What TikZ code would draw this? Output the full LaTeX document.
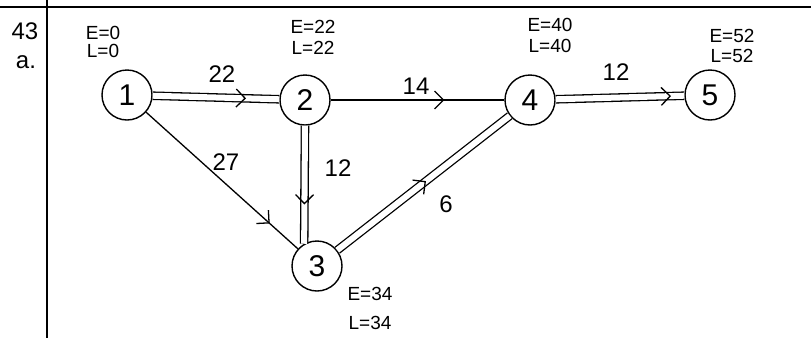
\documentclass[tikz,border=0pt]{standalone}
\usepackage{fontspec}
\setmainfont{Liberation Sans}
\usetikzlibrary{decorations.markings}
\begin{document}
\begin{tikzpicture}[x=1pt,y=-1pt,
  ev/.style={circle, draw, line width=1.4pt, minimum size=50pt, inner sep=0pt, font=\fontsize{30}{32}\selectfont},
  lab/.style={font=\fontsize{19}{19}\selectfont, inner sep=0pt},
  wt/.style={font=\fontsize{24}{24}\selectfont, inner sep=0pt},
  sline/.style={line width=1.3pt},
  dbl/.style={double, double distance=6pt, line width=1.3pt},
  harr/.style={decoration={markings, mark=at position #1 with {\draw[line width=1.3pt] (-9pt,-9pt) -- (0,0) -- (-9pt,9pt);}}, decorate},
]
\useasboundingbox (0,0) rectangle (811,338);
% frame lines
\coordinate (tl) at (0,7);
\coordinate (tr) at (811,7);
\coordinate (vt) at (47,0);
\coordinate (vb) at (47,338);
\draw[line width=1.5pt] (tl) -- (tr);
\draw[line width=1.5pt] (vt) -- (vb);
\node[wt] (qn) at (25,31) {43};
\node[wt] (qa) at (26,62) {a.};

% events
\node[ev] (n1) at (127,95) {1};
\node[ev] (n2) at (305,100) {2};
\node[ev] (n3) at (317,266) {3};
\node[ev] (n4) at (530,100) {4};
\node[ev] (n5) at (710,95) {5};

% E / L labels
\node[lab] (e1) at (103,33) {E=0};
\node[lab] (l1) at (103,51) {L=0};
\node[lab] (e2) at (313,27) {E=22};
\node[lab] (l2) at (313,48) {L=22};
\node[lab] (e4) at (550,25) {E=40};
\node[lab] (l4) at (550,46) {L=40};
\node[lab] (e5) at (732,36) {E=52};
\node[lab] (l5) at (732,56) {L=52};
\node[lab] (e3) at (370,294) {E=34};
\node[lab] (l3) at (370,323) {L=34};

% activities
\draw[dbl] (n1) -- (n2);
\path[harr=0.73] (n1) -- (n2);
\draw[sline] (n2) -- (n4);
\path[harr=0.65] (n2) -- (n4);
\draw[dbl] (n4) -- (n5);
\path[harr=0.89] (n4) -- (n5);
\draw[sline] (n1) -- (n3);
\path[harr=0.81] (n1) -- (n3);
\draw[dbl] (n2.south) -- (n3.120);
\path[harr=0.66] (n2.south) -- (n3.120);
\draw[dbl] (n3) -- (n4);
\path[harr=0.51] (n3) -- (n4);

% weights
\node[wt] (w12) at (222,74) {22};
\node[wt] (w24) at (416,86) {14};
\node[wt] (w45) at (616,72) {12};
\node[wt] (w13) at (226,162) {27};
\node[wt] (w23) at (338,168) {12};
\node[wt] (w34) at (446,204) {6};
\end{tikzpicture}
\end{document}
